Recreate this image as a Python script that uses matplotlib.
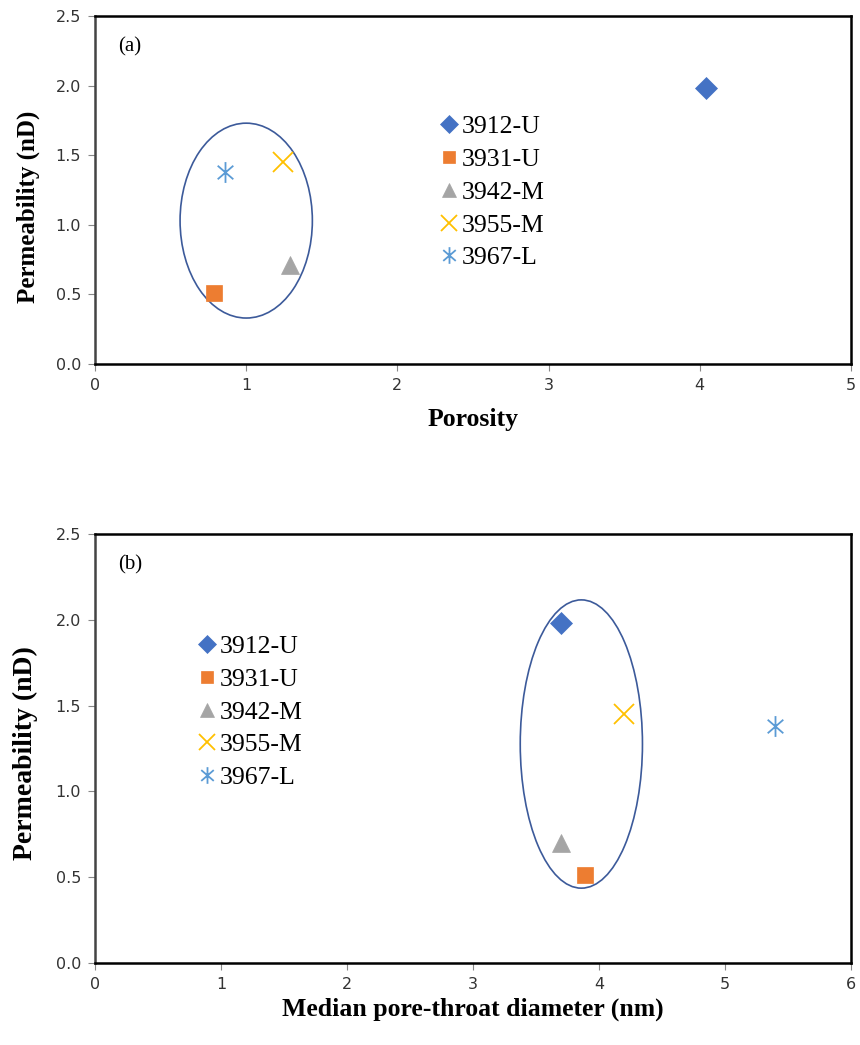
import matplotlib
matplotlib.use("Agg")
import matplotlib.pyplot as plt
from matplotlib.patches import Ellipse
from matplotlib.path import Path

samples = ["3912-U", "3931-U", "3942-M", "3955-M", "3967-L"]
porosity = [4.04, 0.79, 1.29, 1.24, 0.86]
perm_a = [1.98, 0.51, 0.71, 1.45, 1.38]
pore_throat = [3.70, 3.89, 3.70, 4.20, 5.40]
perm_b = [1.98, 0.51, 0.70, 1.45, 1.38]
xticks_a = [0, 1, 2, 3, 4, 5]
xticks_b = [0, 1, 2, 3, 4, 5, 6]
yticks = [0.0, 0.5, 1.0, 1.5, 2.0, 2.5]

colors = ["#4472C4", "#ED7D31", "#A5A5A5", "#FFC000", "#5B9BD5"]
star = Path([(0, -1), (0, 1), (-0.75, -0.65), (0.75, 0.65), (-0.75, 0.65), (0.75, -0.65)],
            [Path.MOVETO, Path.LINETO, Path.MOVETO, Path.LINETO, Path.MOVETO, Path.LINETO])
markers = ["D", "s", "^", "x", star]
msizes = [11, 11, 13, 14, 15]

serif = ["Liberation Serif", "DejaVu Serif"]
tickfont = ["DejaVu Sans"]

fig = plt.figure(figsize=(8.6, 10.45), dpi=100)
ax1 = fig.add_axes([0.1105, 0.6517, 0.879, 0.333])
ax2 = fig.add_axes([0.1105, 0.0785, 0.879, 0.4105])

def style(ax, xt, xlabel, ylsize, xpad, ylpos):
    ax.set_ylim(yticks[0], yticks[-1])
    ax.set_xlim(xt[0], xt[-1])
    ax.set_yticks(yticks)
    ax.set_yticklabels([f"{v:.1f}" for v in yticks])
    ax.set_xticks(xt)
    ax.tick_params(direction="out", length=5, color="#888888", labelsize=11.5, pad=5)
    for lab in ax.get_xticklabels() + ax.get_yticklabels():
        lab.set_family(tickfont)
        lab.set_color("#333333")
    ax.set_ylabel("Permeability (nD)", family=serif, fontweight="bold", fontsize=ylsize)
    ax.yaxis.set_label_coords(*ylpos)
    ax.set_xlabel(xlabel, family=serif, fontweight="bold", fontsize=18.5, labelpad=xpad)
    for sp in ax.spines.values():
        sp.set_color("black")
        sp.set_linewidth(1.8)
    ax.spines["left"].set_color("#444444")

style(ax1, xticks_a, "Porosity", 18, 11, (-0.073, 0.451))
style(ax2, xticks_b, "Median pore-throat diameter (nm)", 20, 4, (-0.075, 0.49))

for ax, xs, ys in [(ax1, porosity, perm_a), (ax2, pore_throat, perm_b)]:
    for i, s in enumerate(samples):
        ax.plot([xs[i]], [ys[i]], linestyle="none", marker=markers[i], color=colors[i],
                markersize=msizes[i], markeredgewidth=1.3 if i >= 3 else 0.5,
                label=s, clip_on=False)

ax1.add_patch(Ellipse((1.0, 1.03), 0.875, 1.40, fill=False, edgecolor="#3C5A9A", linewidth=1.2))
ax2.add_patch(Ellipse((3.86, 1.276), 0.97, 1.68, fill=False, edgecolor="#3C5A9A", linewidth=1.2))

ax1.text(0.03, 0.91, "(a)", transform=ax1.transAxes, family=serif, fontsize=15, va="center")
ax2.text(0.03, 0.928, "(b)", transform=ax2.transAxes, family=serif, fontsize=15, va="center")

leg_kw = dict(frameon=False, prop={"family": serif, "size": 18.5}, handlelength=0.75,
              handletextpad=0.12, labelspacing=0.38, borderaxespad=0, borderpad=0,
              markerscale=0.8, loc="center left")
ax1.legend(bbox_to_anchor=(0.456, 0.493), **leg_kw)
ax2.legend(bbox_to_anchor=(0.135, 0.585), **leg_kw)

fig.savefig("out.png", dpi=100)
